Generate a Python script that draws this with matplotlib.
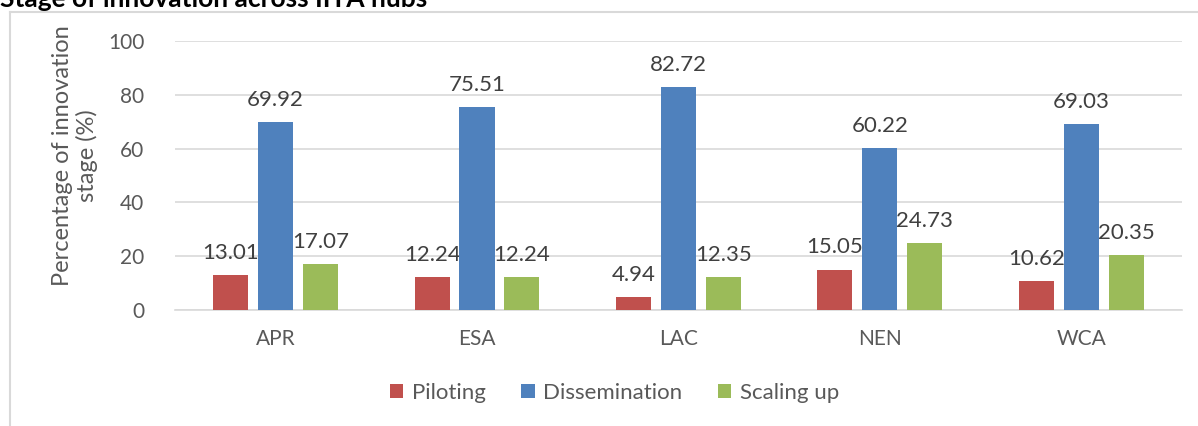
import numpy as np
import matplotlib.pyplot as plt
from matplotlib.lines import Line2D

plt.rcParams['font.family'] = ['Lato', 'DejaVu Sans']

hubs = ['APR', 'ESA', 'LAC', 'NEN', 'WCA']
piloting = [13.01, 12.24, 4.94, 15.05, 10.62]
dissemination = [69.92, 75.51, 82.72, 60.22, 69.03]
scaling_up = [17.07, 12.24, 12.35, 24.73, 20.35]

series = [('Piloting', piloting, '#C0504D'),
          ('Dissemination', dissemination, '#4F81BD'),
          ('Scaling up', scaling_up, '#9BBB59')]

txt = '#595959'
fig = plt.figure(figsize=(11.98, 4.26), dpi=100)
ax = fig.add_axes([0.146, 0.2723, 0.8406, 0.6315])

x = np.arange(len(hubs))
w = 0.174
step = 0.223
for i, (name, vals, col) in enumerate(series):
    pos = x + (i - 1) * step
    bars = ax.bar(pos, vals, w, color=col, label=name, zorder=3)
    for xp, v in zip(pos, vals):
        ax.text(xp, v + 4.5, '%.2f' % v, ha='center', va='bottom',
                fontsize=16, color='#404040')

ax.set_xlim(-0.5, 4.5)
ax.set_ylim(0, 100)
ax.set_yticks(range(0, 101, 20))
ax.set_xticks(x)
ax.set_xticklabels(hubs)
ax.tick_params(length=0, labelsize=15, colors=txt)
ax.tick_params(axis='y', pad=22)
ax.tick_params(axis='x', pad=14)
ax.grid(axis='y', color='#d9d9d9', lw=1.2, zorder=0)
for s in ['top', 'right', 'left']:
    ax.spines[s].set_visible(False)
ax.spines['bottom'].set_color('#d9d9d9')
ax.spines['bottom'].set_linewidth(1.2)

fig.text(0.0626, 0.6351, 'Percentage of innovation\nstage (%)', rotation=90,
         ha='center', va='center', fontsize=17, color=txt, linespacing=1.2)

fig.legend(loc='center', bbox_to_anchor=(0.513, 0.077), ncol=3, frameon=False,
           fontsize=16, labelcolor=txt, handlelength=0.6, handleheight=0.6,
           columnspacing=1.6, handletextpad=0.4)

# outer chart border (partly cut off)
fig.add_artist(Line2D([0.0085, 1.0], [0.9718, 0.9718], color='#d9d9d9', lw=1.5))
fig.add_artist(Line2D([0.0085, 0.0085], [0.0, 0.9718], color='#d9d9d9', lw=1.5))

fig.text(0.0, 1.003, 'Stage of innovation across IITA hubs', fontsize=19,
         fontweight='bold', color='black', va='center', ha='left')

fig.savefig('out.png', dpi=100)
